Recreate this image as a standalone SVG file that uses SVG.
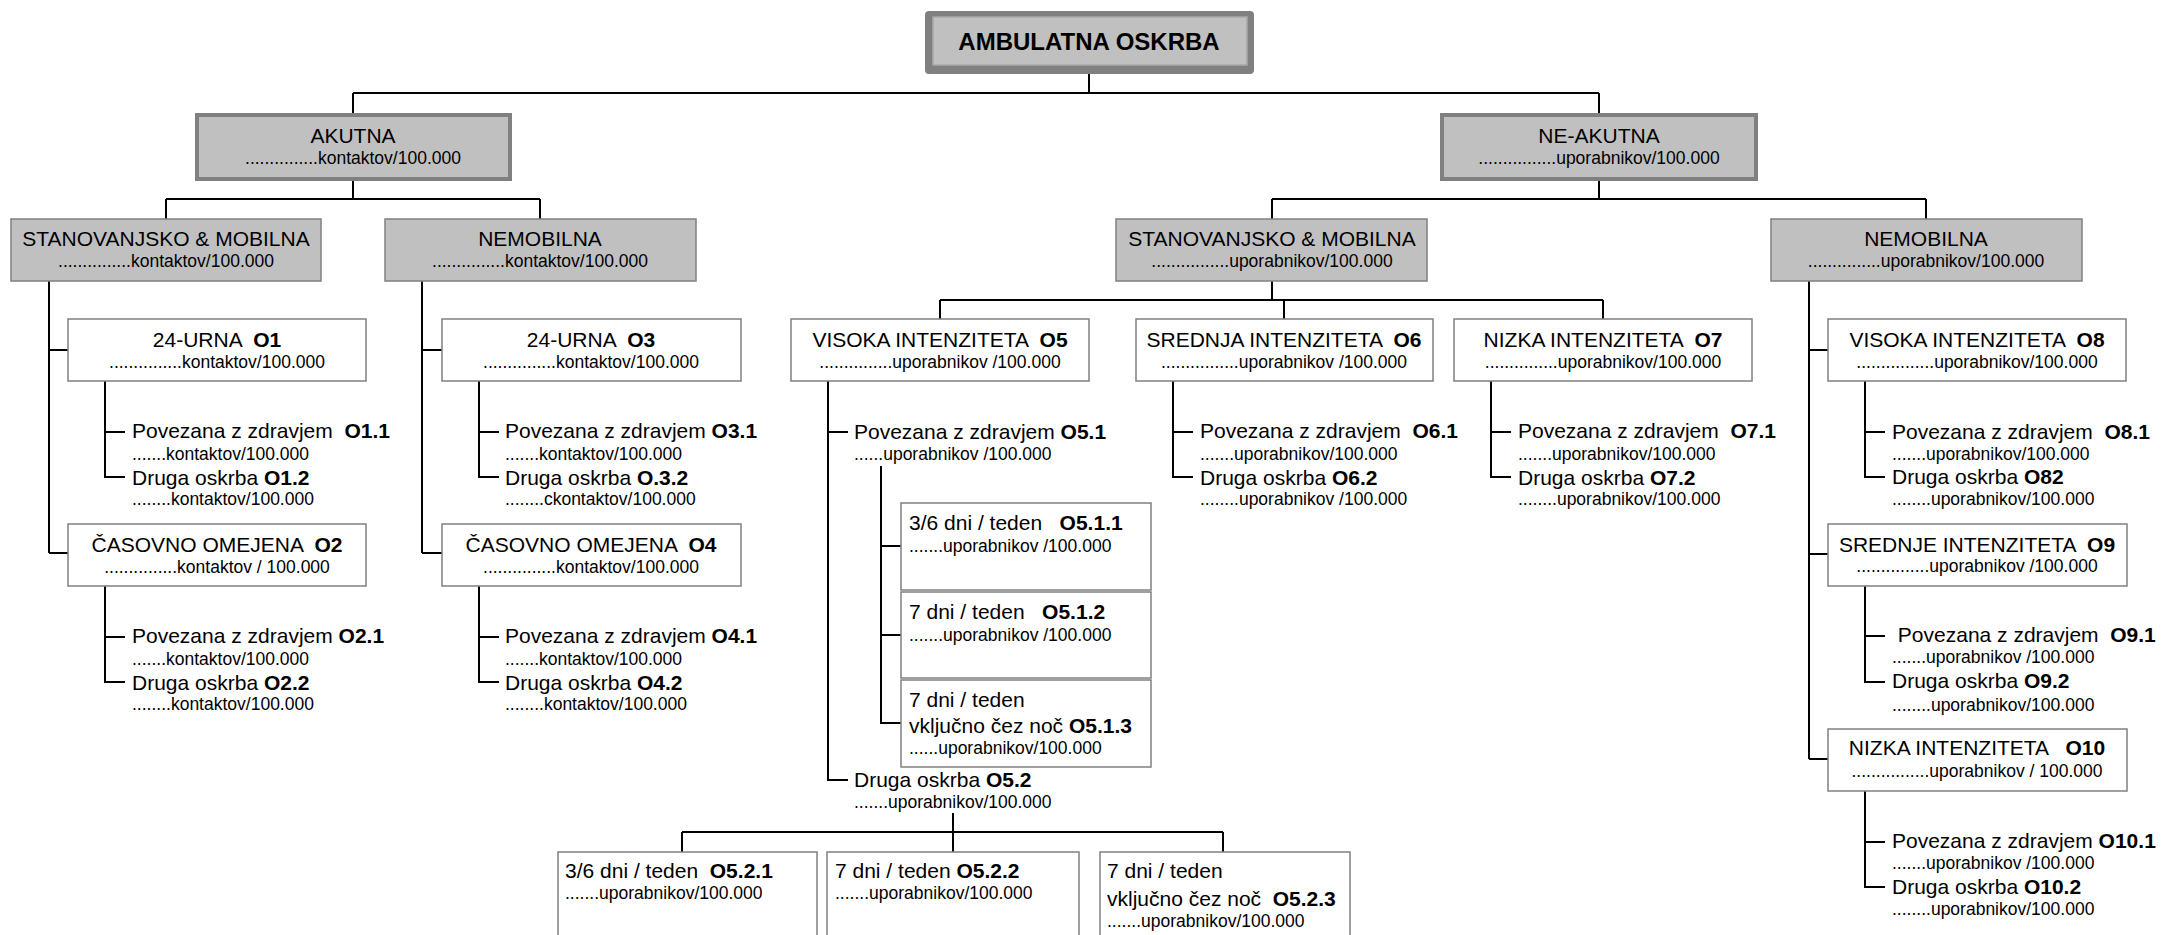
<svg xmlns="http://www.w3.org/2000/svg" width="2161" height="935" viewBox="0 0 2161 935" xml:space="preserve">
<style>
text{font-family:"Liberation Sans",Arial,sans-serif;font-size:21px;fill:#000;white-space:pre}
.s{font-size:17.5px}
.c{text-anchor:middle}
.b{font-weight:bold}
.box{fill:#fff;stroke:#808080;stroke-width:1.5}
.gbox{fill:#C0C0C0;stroke:#808080;stroke-width:1.5}
.hbox{fill:#C0C0C0;stroke:#808080;stroke-width:4}
.ln{stroke:#000;stroke-width:2;fill:none}
</style>
<rect width="2161" height="935" fill="#fff"/>
<g id="connectors" class="ln">
<path d="M1089 74V93M353 93H1599M353 93V113M1599 93V113"/>
<path d="M353 181V199M166 199H540M166 199V219M540 199V219"/>
<path d="M1599 181V199M1272 199H1926M1272 199V219M1926 199V219"/>
<path d="M49 281V553M49 350H68M49 553H68"/>
<path d="M105 381V477H125M105 432H125"/>
<path d="M105 586V682H125M105 637H125"/>
<path d="M422 281V553M422 350H442M422 553H442"/>
<path d="M479 381V477H499M479 432H499"/>
<path d="M479 586V682H499M479 637H499"/>
<path d="M1272 281V300M940 300H1603M940 300V319M1284 300V319M1603 300V319"/>
<path d="M828 381V780H848M828 432H848"/>
<path d="M881 466V723H901M881 546H901M881 635H901"/>
<path d="M953 813V832M682 832H1223M682 832V852M953 832V852M1223 832V852"/>
<path d="M1173 381V477H1193M1173 432H1193"/>
<path d="M1491 381V477H1511M1491 432H1511"/>
<path d="M1809 281V759M1809 350H1828M1809 554H1828M1809 759H1828"/>
<path d="M1865 381V477H1885M1865 432H1885"/>
<path d="M1865 586V682H1885M1865 636H1885"/>
<path d="M1865 791V887H1885M1865 842H1885"/>
</g>
<g id="root">
<rect x="925" y="11" width="329" height="63" rx="4" fill="#808080"/>
<rect x="933" y="17" width="314" height="48" fill="#C0C0C0" stroke="#A8A8A8" stroke-width="1.5"/>
<text x="1089" y="50" class="c b" style="font-size:24px">AMBULATNA OSKRBA</text>
</g>
<g id="akutna">
<rect x="197" y="115" width="313" height="64" class="hbox"/>
<text x="353" y="143" class="c">AKUTNA</text>
<text x="353" y="164" class="c s">...............kontaktov/100.000</text>
</g>
<g id="neakutna">
<rect x="1442" y="115" width="314" height="64" class="hbox"/>
<text x="1599" y="143" class="c">NE-AKUTNA</text>
<text x="1599" y="164" class="c s">................uporabnikov/100.000</text>
</g>
<g id="akutna-stan">
<rect x="11" y="219" width="310" height="62" class="gbox"/>
<text x="166" y="246" class="c">STANOVANJSKO &amp; MOBILNA</text>
<text x="166" y="267" class="c s">...............kontaktov/100.000</text>
</g>
<g id="akutna-nemob">
<rect x="385" y="219" width="311" height="62" class="gbox"/>
<text x="540" y="246" class="c">NEMOBILNA</text>
<text x="540" y="267" class="c s">...............kontaktov/100.000</text>
</g>
<g id="neakutna-stan">
<rect x="1116" y="219" width="311" height="62" class="gbox"/>
<text x="1272" y="246" class="c">STANOVANJSKO &amp; MOBILNA</text>
<text x="1272" y="267" class="c s">................uporabnikov/100.000</text>
</g>
<g id="neakutna-nemob">
<rect x="1771" y="219" width="311" height="62" class="gbox"/>
<text x="1926" y="246" class="c">NEMOBILNA</text>
<text x="1926" y="267" class="c s">...............uporabnikov/100.000</text>
</g>
<g id="O1">
<rect x="68" y="319" width="298" height="62" class="box"/>
<text x="217" y="347" class="c">24-URNA  <tspan class="b">O1</tspan></text>
<text x="217" y="368" class="c s">...............kontaktov/100.000</text>
</g>
<g id="O1-sub">
<text x="132" y="438">Povezana z zdravjem  <tspan class="b">O1.1</tspan></text>
<text x="132" y="460" class="s">.......kontaktov/100.000</text>
<text x="132" y="485">Druga oskrba <tspan class="b">O1.2</tspan></text>
<text x="132" y="505" class="s">........kontaktov/100.000</text>
</g>
<g id="O2">
<rect x="68" y="524" width="298" height="62" class="box"/>
<text x="217" y="552" class="c">ČASOVNO OMEJENA  <tspan class="b">O2</tspan></text>
<text x="217" y="573" class="c s">...............kontaktov / 100.000</text>
</g>
<g id="O2-sub">
<text x="132" y="643">Povezana z zdravjem <tspan class="b">O2.1</tspan></text>
<text x="132" y="665" class="s">.......kontaktov/100.000</text>
<text x="132" y="690">Druga oskrba <tspan class="b">O2.2</tspan></text>
<text x="132" y="710" class="s">........kontaktov/100.000</text>
</g>
<g id="O3">
<rect x="442" y="319" width="299" height="62" class="box"/>
<text x="591" y="347" class="c">24-URNA  <tspan class="b">O3</tspan></text>
<text x="591" y="368" class="c s">...............kontaktov/100.000</text>
</g>
<g id="O3-sub">
<text x="505" y="438">Povezana z zdravjem <tspan class="b">O3.1</tspan></text>
<text x="505" y="460" class="s">.......kontaktov/100.000</text>
<text x="505" y="485">Druga oskrba <tspan class="b">O.3.2</tspan></text>
<text x="505" y="505" class="s">........ckontaktov/100.000</text>
</g>
<g id="O4">
<rect x="442" y="524" width="299" height="62" class="box"/>
<text x="591" y="552" class="c">ČASOVNO OMEJENA  <tspan class="b">O4</tspan></text>
<text x="591" y="573" class="c s">...............kontaktov/100.000</text>
</g>
<g id="O4-sub">
<text x="505" y="643">Povezana z zdravjem <tspan class="b">O4.1</tspan></text>
<text x="505" y="665" class="s">.......kontaktov/100.000</text>
<text x="505" y="690">Druga oskrba <tspan class="b">O4.2</tspan></text>
<text x="505" y="710" class="s">........kontaktov/100.000</text>
</g>
<g id="O5">
<rect x="791" y="319" width="298" height="62" class="box"/>
<text x="940" y="347" class="c">VISOKA INTENZITETA  <tspan class="b">O5</tspan></text>
<text x="940" y="368" class="c s">...............uporabnikov /100.000</text>
</g>
<g id="O5-1">
<text x="854" y="439">Povezana z zdravjem <tspan class="b">O5.1</tspan></text>
<text x="854" y="460" class="s">......uporabnikov /100.000</text>
</g>
<g id="O5-1-1">
<rect x="901" y="503" width="250" height="87" class="box"/>
<text x="909" y="530">3/6 dni / teden   <tspan class="b">O5.1.1</tspan></text>
<text x="909" y="552" class="s">.......uporabnikov /100.000</text>
</g>
<g id="O5-1-2">
<rect x="901" y="592" width="250" height="86" class="box"/>
<text x="909" y="619">7 dni / teden   <tspan class="b">O5.1.2</tspan></text>
<text x="909" y="641" class="s">.......uporabnikov /100.000</text>
</g>
<g id="O5-1-3">
<rect x="901" y="680" width="250" height="87" class="box"/>
<text x="909" y="707">7 dni / teden</text>
<text x="909" y="733">vključno čez noč <tspan class="b">O5.1.3</tspan></text>
<text x="909" y="754" class="s">......uporabnikov/100.000</text>
</g>
<g id="O5-2">
<text x="854" y="787">Druga oskrba <tspan class="b">O5.2</tspan></text>
<text x="854" y="808" class="s">.......uporabnikov/100.000</text>
</g>
<g id="O5-2-1">
<rect x="558" y="852" width="259" height="110" class="box"/>
<text x="565" y="878">3/6 dni / teden  <tspan class="b">O5.2.1</tspan></text>
<text x="565" y="899" class="s">.......uporabnikov/100.000</text>
</g>
<g id="O5-2-2">
<rect x="827" y="852" width="252" height="110" class="box"/>
<text x="835" y="878">7 dni / teden <tspan class="b">O5.2.2</tspan></text>
<text x="835" y="899" class="s">.......uporabnikov/100.000</text>
</g>
<g id="O5-2-3">
<rect x="1100" y="852" width="250" height="110" class="box"/>
<text x="1107" y="878">7 dni / teden</text>
<text x="1107" y="906">vključno čez noč  <tspan class="b">O5.2.3</tspan></text>
<text x="1107" y="927" class="s">.......uporabnikov/100.000</text>
</g>
<g id="O6">
<rect x="1136" y="319" width="297" height="62" class="box"/>
<text x="1284" y="347" class="c">SREDNJA INTENZITETA  <tspan class="b">O6</tspan></text>
<text x="1284" y="368" class="c s">................uporabnikov /100.000</text>
</g>
<g id="O6-sub">
<text x="1200" y="438">Povezana z zdravjem  <tspan class="b">O6.1</tspan></text>
<text x="1200" y="460" class="s">.......uporabnikov/100.000</text>
<text x="1200" y="485">Druga oskrba <tspan class="b">O6.2</tspan></text>
<text x="1200" y="505" class="s">........uporabnikov /100.000</text>
</g>
<g id="O7">
<rect x="1454" y="319" width="298" height="62" class="box"/>
<text x="1603" y="347" class="c">NIZKA INTENZITETA  <tspan class="b">O7</tspan></text>
<text x="1603" y="368" class="c s">...............uporabnikov/100.000</text>
</g>
<g id="O7-sub">
<text x="1518" y="438">Povezana z zdravjem  <tspan class="b">O7.1</tspan></text>
<text x="1518" y="460" class="s">.......uporabnikov/100.000</text>
<text x="1518" y="485">Druga oskrba <tspan class="b">O7.2</tspan></text>
<text x="1518" y="505" class="s">........uporabnikov/100.000</text>
</g>
<g id="O8">
<rect x="1828" y="319" width="298" height="62" class="box"/>
<text x="1977" y="347" class="c">VISOKA INTENZITETA  <tspan class="b">O8</tspan></text>
<text x="1977" y="368" class="c s">................uporabnikov/100.000</text>
</g>
<g id="O8-sub">
<text x="1892" y="439">Povezana z zdravjem  <tspan class="b">O8.1</tspan></text>
<text x="1892" y="460" class="s">.......uporabnikov/100.000</text>
<text x="1892" y="484">Druga oskrba <tspan class="b">O82</tspan></text>
<text x="1892" y="505" class="s">........uporabnikov/100.000</text>
</g>
<g id="O9">
<rect x="1828" y="524" width="299" height="62" class="box"/>
<text x="1977" y="552" class="c">SREDNJE INTENZITETA  <tspan class="b">O9</tspan></text>
<text x="1977" y="572" class="c s">...............uporabnikov /100.000</text>
</g>
<g id="O9-sub">
<text x="1892" y="642"> Povezana z zdravjem  <tspan class="b">O9.1</tspan></text>
<text x="1892" y="663" class="s">.......uporabnikov /100.000</text>
<text x="1892" y="688">Druga oskrba <tspan class="b">O9.2</tspan></text>
<text x="1892" y="711" class="s">........uporabnikov/100.000</text>
</g>
<g id="O10">
<rect x="1828" y="729" width="299" height="62" class="box"/>
<text x="1977" y="755" class="c">NIZKA INTENZITETA   <tspan class="b">O10</tspan></text>
<text x="1977" y="777" class="c s">................uporabnikov / 100.000</text>
</g>
<g id="O10-sub">
<text x="1892" y="848">Povezana z zdravjem <tspan class="b">O10.1</tspan></text>
<text x="1892" y="869" class="s">.......uporabnikov /100.000</text>
<text x="1892" y="894">Druga oskrba <tspan class="b">O10.2</tspan></text>
<text x="1892" y="915" class="s">........uporabnikov/100.000</text>
</g>
</svg>
